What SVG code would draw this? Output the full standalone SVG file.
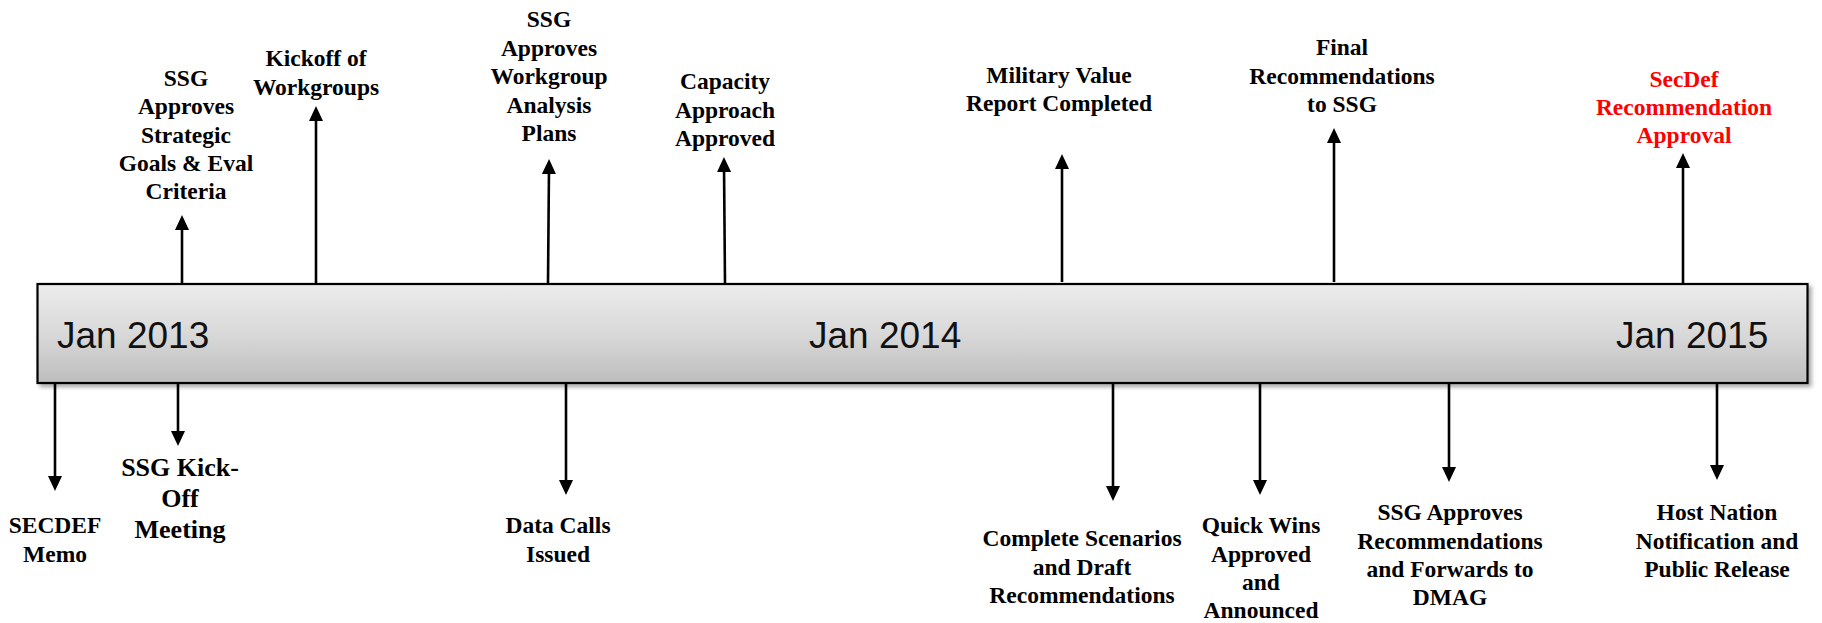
<svg xmlns="http://www.w3.org/2000/svg" width="1822" height="623" viewBox="0 0 1822 623">
<style>
.lbl{font-family:"Liberation Serif","Times New Roman",serif;font-weight:bold;font-size:23.5px;fill:#000;text-anchor:middle}
.big{font-size:26px}
.red{fill:#ff0000}
.yr{font-family:"Liberation Sans",Arial,sans-serif;font-size:37px;fill:#111}
.conn{stroke:#000;stroke-width:2.6;fill:none;marker-end:url(#ah)}
</style>
<defs>
<linearGradient id="barg" x1="0" y1="0" x2="0" y2="1">
<stop offset="0" stop-color="#ececec"/>
<stop offset="0.5" stop-color="#d9d9d9"/>
<stop offset="1" stop-color="#bdbdbd"/>
</linearGradient>
<filter id="sh" x="-5%" y="-20%" width="110%" height="150%">
<feDropShadow dx="3" dy="3" stdDeviation="2" flood-color="#000" flood-opacity="0.35"/>
</filter>
<marker id="ah" markerUnits="userSpaceOnUse" viewBox="0 0 15 14" refX="7" refY="7" markerWidth="15" markerHeight="14" orient="auto">
<path d="M0,0 L15,7 L0,14 z" fill="#000"/>
</marker>
</defs>
<g id="timeline-bar">
<rect x="37.5" y="284" width="1770" height="99" fill="url(#barg)" stroke="#000" stroke-width="2.2" filter="url(#sh)"/>
<text class="yr" x="57" y="348">Jan 2013</text>
<text class="yr" x="809" y="348">Jan 2014</text>
<text class="yr" x="1616" y="348">Jan 2015</text>
</g>
<g id="connectors">
<line class="conn" x1="182" y1="283" x2="182" y2="223"/>
<line class="conn" x1="316" y1="283" x2="316" y2="114"/>
<line class="conn" x1="548" y1="283" x2="549" y2="167"/>
<line class="conn" x1="725" y1="283" x2="724" y2="165"/>
<line class="conn" x1="1062" y1="282" x2="1062" y2="162"/>
<line class="conn" x1="1334" y1="282" x2="1334" y2="136"/>
<line class="conn" x1="1683" y1="283" x2="1683" y2="161"/>
<line class="conn" x1="55" y1="384" x2="55" y2="483"/>
<line class="conn" x1="178" y1="384" x2="178" y2="438"/>
<line class="conn" x1="566" y1="384" x2="566" y2="487"/>
<line class="conn" x1="1113" y1="384" x2="1113" y2="493"/>
<line class="conn" x1="1260" y1="384" x2="1260" y2="487"/>
<line class="conn" x1="1449" y1="384" x2="1449" y2="474"/>
<line class="conn" x1="1717" y1="384" x2="1717" y2="472"/>
</g>
<g id="n-strategic-goals">
<text class="lbl" x="186" y="86">SSG</text>
<text class="lbl" x="186" y="114">Approves</text>
<text class="lbl" x="186" y="143">Strategic</text>
<text class="lbl" x="186" y="171">Goals &amp; Eval</text>
<text class="lbl" x="186" y="199">Criteria</text>
</g>
<g id="n-kickoff-workgroups">
<text class="lbl" x="316" y="66">Kickoff of</text>
<text class="lbl" x="316" y="94.5">Workgroups</text>
</g>
<g id="n-analysis-plans">
<text class="lbl" x="549" y="27">SSG</text>
<text class="lbl" x="549" y="55.5">Approves</text>
<text class="lbl" x="549" y="84">Workgroup</text>
<text class="lbl" x="549" y="112.5">Analysis</text>
<text class="lbl" x="549" y="141">Plans</text>
</g>
<g id="n-capacity">
<text class="lbl" x="725" y="89">Capacity</text>
<text class="lbl" x="725" y="118">Approach</text>
<text class="lbl" x="725" y="146">Approved</text>
</g>
<g id="n-military-value">
<text class="lbl" x="1059" y="83">Military Value</text>
<text class="lbl" x="1059" y="111">Report Completed</text>
</g>
<g id="n-final-recs">
<text class="lbl" x="1342" y="55">Final</text>
<text class="lbl" x="1342" y="83.5">Recommendations</text>
<text class="lbl" x="1342" y="112">to SSG</text>
</g>
<g id="n-secdef-approval">
<text class="lbl red" x="1684" y="87">SecDef</text>
<text class="lbl red" x="1684" y="115">Recommendation</text>
<text class="lbl red" x="1684" y="143">Approval</text>
</g>
<g id="n-secdef-memo">
<text class="lbl" x="55" y="533">SECDEF</text>
<text class="lbl" x="55" y="562">Memo</text>
</g>
<g id="n-ssg-kickoff">
<text class="lbl big" x="180" y="476">SSG Kick-</text>
<text class="lbl big" x="180" y="507">Off</text>
<text class="lbl big" x="180" y="538">Meeting</text>
</g>
<g id="n-data-calls">
<text class="lbl" x="558" y="533">Data Calls</text>
<text class="lbl" x="558" y="562">Issued</text>
</g>
<g id="n-complete-scenarios">
<text class="lbl" x="1082" y="546">Complete Scenarios</text>
<text class="lbl" x="1082" y="574.5">and Draft</text>
<text class="lbl" x="1082" y="603">Recommendations</text>
</g>
<g id="n-quick-wins">
<text class="lbl" x="1261" y="533">Quick Wins</text>
<text class="lbl" x="1261" y="561.5">Approved</text>
<text class="lbl" x="1261" y="590">and</text>
<text class="lbl" x="1261" y="618">Announced</text>
</g>
<g id="n-ssg-forwards">
<text class="lbl" x="1450" y="520">SSG Approves</text>
<text class="lbl" x="1450" y="548.5">Recommendations</text>
<text class="lbl" x="1450" y="577">and Forwards to</text>
<text class="lbl" x="1450" y="605">DMAG</text>
</g>
<g id="n-host-nation">
<text class="lbl" x="1717" y="520">Host Nation</text>
<text class="lbl" x="1717" y="548.5">Notification and</text>
<text class="lbl" x="1717" y="577">Public Release</text>
</g>
</svg>
